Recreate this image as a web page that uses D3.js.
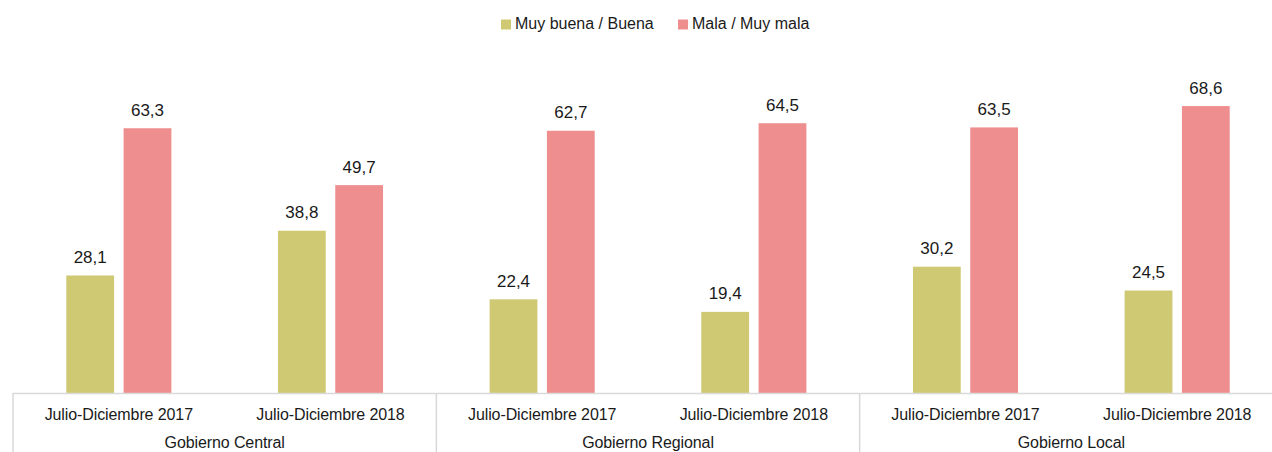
<!DOCTYPE html>
<html>
<head>
<meta charset="utf-8">
<script src="https://cdn.jsdelivr.net/npm/d3@7"></script>
<style>
  html, body { margin: 0; padding: 0; background: #fff; }
  svg { display: block; font-family: Arial, "Liberation Sans", sans-serif; }
</style>
</head>
<body>
<svg id="chart" width="1272" height="452"></svg>
<script>
const groups = ["Gobierno Central", "Gobierno Regional", "Gobierno Local"];
const periods = ["Julio-Diciembre 2017", "Julio-Diciembre 2018"];
const seriesNames = ["Muy buena / Buena", "Mala / Muy mala"];
const seriesColors = ["#cfc973", "#ef8e8e"];
const buenaValues = [28.1, 38.8, 22.4, 19.4, 30.2, 24.5];
const malaValues  = [63.3, 49.7, 62.7, 64.5, 63.5, 68.6];
const valueLabels = [
  ["28,1", "38,8", "22,4", "19,4", "30,2", "24,5"],
  ["63,3", "49,7", "62,7", "64,5", "63,5", "68,6"]
];

const svg = d3.select("#chart");
const left = 13, right = 1283, baseY = 393, topY = 58.4;

const cats = [];
groups.forEach((g, gi) => periods.forEach((p, pi) => cats.push({ id: gi + "|" + pi, group: g, period: p, idx: gi * 2 + pi })));

const x0 = d3.scaleBand().domain(cats.map(c => c.id)).range([left, right]).padding(0);
const x1 = d3.scaleBand().domain(seriesNames).range([0, x0.bandwidth()]).paddingInner(0.166).paddingOuter(0.93);
const y = d3.scaleLinear().domain([0, 80]).range([baseY, topY]);

const seriesVals = [buenaValues, malaValues];

// bars
seriesNames.forEach((s, si) => {
  svg.append("g").selectAll("rect").data(cats).join("rect")
    .attr("x", c => x0(c.id) + x1(s))
    .attr("y", c => y(seriesVals[si][c.idx]))
    .attr("width", x1.bandwidth())
    .attr("height", c => y(0) - y(seriesVals[si][c.idx]))
    .attr("fill", seriesColors[si]);
  svg.append("g").selectAll("text").data(cats).join("text")
    .attr("x", c => x0(c.id) + x1(s) + x1.bandwidth() / 2)
    .attr("y", c => y(seriesVals[si][c.idx]) - 12.5)
    .attr("text-anchor", "middle")
    .attr("font-size", 17)
    .attr("fill", "#1a1a1a")
    .text(c => valueLabels[si][c.idx]);
});

// axis line and group separators
const axisColor = "#d9d9d9";
svg.append("line").attr("x1", left).attr("x2", 1272).attr("y1", baseY + 0.5).attr("y2", baseY + 0.5)
  .attr("stroke", axisColor).attr("stroke-width", 1.5);
const sepX = [left].concat(groups.slice(1).map((g, i) => x0((i + 1) + "|0")));
svg.append("g").selectAll("line").data(sepX).join("line")
  .attr("x1", d => d).attr("x2", d => d)
  .attr("y1", baseY).attr("y2", 452)
  .attr("stroke", axisColor).attr("stroke-width", 1.5);

// category labels
svg.append("g").selectAll("text").data(cats).join("text")
  .attr("x", c => x0(c.id) + x0.bandwidth() / 2)
  .attr("y", 420)
  .attr("text-anchor", "middle")
  .attr("font-size", 16)
  .attr("letter-spacing", -0.1)
  .attr("fill", "#1a1a1a")
  .text(c => c.period);

// group labels
svg.append("g").selectAll("text").data(groups).join("text")
  .attr("x", (g, i) => x0(i + "|0") + x0.bandwidth())
  .attr("y", 447.5)
  .attr("text-anchor", "middle")
  .attr("font-size", 16)
  .attr("letter-spacing", -0.1)
  .attr("fill", "#1a1a1a")
  .text(g => g);

// legend
const legendX = [501, 678];
const lg = svg.append("g").selectAll("g").data(seriesNames).join("g")
  .attr("transform", (d, i) => `translate(${legendX[i]},0)`);
lg.append("rect").attr("x", 0).attr("y", 19.5).attr("width", 10).attr("height", 10)
  .attr("fill", (d, i) => seriesColors[i]);
lg.append("text").attr("x", 14).attr("y", 29).attr("font-size", 16)
  .attr("fill", "#1a1a1a").text(d => d);
</script>
</body>
</html>
